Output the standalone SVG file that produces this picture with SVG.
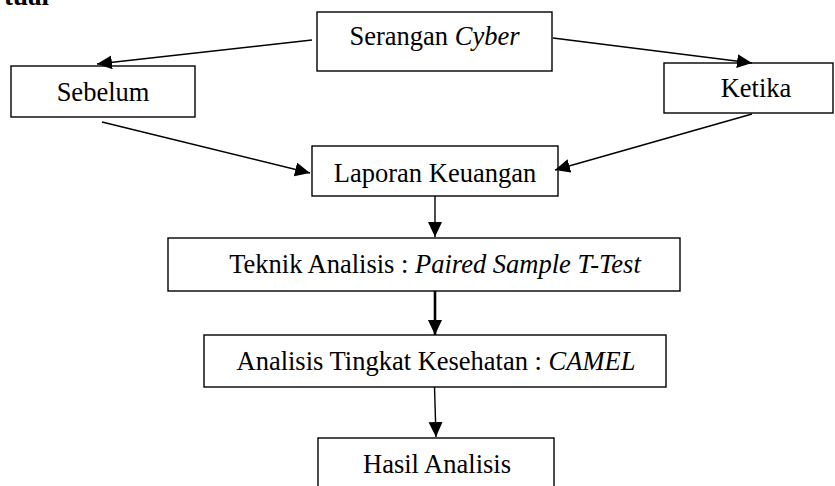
<svg xmlns="http://www.w3.org/2000/svg" width="835" height="486" viewBox="0 0 835 486">
<style>
.box{fill:#fff;stroke:#000;stroke-width:1.4}
.t{font-family:"Liberation Serif","Times New Roman",serif;font-size:26.5px;fill:#000;text-anchor:middle}
.i{font-style:italic}
.c{fill:none;stroke:#000;stroke-width:1.4}
</style>
<defs>
<marker id="ah" markerUnits="userSpaceOnUse" markerWidth="16" markerHeight="15" refX="15" refY="7" orient="auto">
<path d="M0,0 L15,7 L0,14 z" fill="#000"/>
</marker>
</defs>
<rect width="835" height="486" fill="#fff"/>
<text x="4" y="5" style="font-family:'Liberation Serif',serif;font-size:27px;font-weight:bold">tual</text>
<g id="n-serangan"><rect class="box" x="317" y="12" width="235" height="59"/><text class="t" x="434.5" y="45">Serangan <tspan class="i">Cyber</tspan></text></g>
<g id="n-sebelum"><rect class="box" x="11" y="66" width="184" height="51"/><text class="t" x="103" y="101">Sebelum</text></g>
<g id="n-ketika"><rect class="box" x="664" y="63" width="169" height="50"/><text class="t" x="756" y="97">Ketika</text></g>
<g id="n-laporan"><rect class="box" x="312" y="146" width="246" height="50"/><text class="t" x="435" y="182">Laporan Keuangan</text></g>
<g id="n-teknik"><rect class="box" x="168" y="238" width="512" height="53"/><text class="t" x="435" y="273">Teknik Analisis : <tspan class="i">Paired Sample T-Test</tspan></text></g>
<g id="n-analisis"><rect class="box" x="204" y="335" width="462" height="52"/><text class="t" x="436" y="370">Analisis Tingkat Kesehatan : <tspan class="i">CAMEL</tspan></text></g>
<g id="n-hasil"><rect class="box" x="318" y="438" width="236" height="60"/><text class="t" x="437" y="473">Hasil Analisis</text></g>
<g id="connectors">
<line class="c" x1="312" y1="40" x2="97" y2="64" marker-end="url(#ah)"/>
<line class="c" x1="553" y1="38" x2="752" y2="63" marker-end="url(#ah)"/>
<line class="c" x1="102" y1="122" x2="310" y2="173" marker-end="url(#ah)"/>
<line class="c" x1="752" y1="114" x2="555" y2="170" marker-end="url(#ah)"/>
<line class="c" x1="435" y1="196" x2="435" y2="237" marker-end="url(#ah)"/>
<line class="c" x1="435" y1="291" x2="435" y2="335" stroke-width="2.6" style="stroke-width:2.6" marker-end="url(#ah)"/>
<line class="c" x1="434.5" y1="387" x2="436" y2="437" marker-end="url(#ah)"/>
</g>
</svg>
